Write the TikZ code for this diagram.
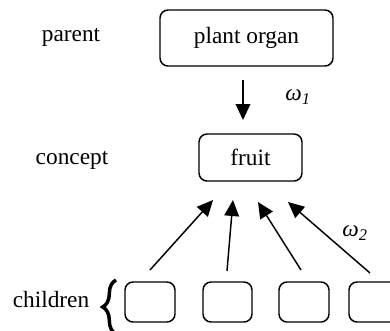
\documentclass[tikz,border=0pt]{standalone}
\usepackage{fontspec}
\setmainfont{Liberation Serif}
\usetikzlibrary{arrows.meta,decorations.pathreplacing}
\tikzset{
  lbl/.style={font=\fontsize{17.5}{20}\selectfont, inner sep=0pt},
  box/.style={draw, line width=1.1pt, rounded corners=6pt, font=\fontsize{17.5}{20}\selectfont, inner sep=0pt},
  arr/.style={line width=1.1pt, -{Triangle[length=12pt,width=11pt]}},
  wlbl/.style={font=\fontsize{17.5}{20}\selectfont\itshape, inner sep=0pt}
}
\begin{document}
\begin{tikzpicture}[x=0.75pt,y=-0.75pt]
\useasboundingbox (0,0) rectangle (390,330);
% labels
\node[lbl] (lp) at (71,37) {parent};
\node[lbl] (lc) at (72,160) {concept};
\node[lbl] (lch) at (51,300) {children};
% boxes
\node[box, minimum width=173*0.75pt, minimum height=56*0.75pt] (po) at (246.5,38) {plant organ};
\node[box, minimum width=103*0.75pt, minimum height=47*0.75pt] (fr) at (250.5,157.5) {fruit};
\node[box, minimum width=50*0.75pt, minimum height=40*0.75pt] (c1) at (150,302) {};
\node[box, minimum width=49*0.75pt, minimum height=40*0.75pt] (c2) at (227.5,302) {};
\node[box, minimum width=50*0.75pt, minimum height=40*0.75pt] (c3) at (304,302) {};
\node[box, minimum width=50*0.75pt, minimum height=40*0.75pt] (c4) at (374,302) {};
% brace
\coordinate (b1) at (116,334);
\coordinate (b2) at (116,280);
\draw[line width=2.6pt, decorate, decoration={brace, amplitude=10pt}] (b1) -- (b2);
% arrow parent->concept
\coordinate (d1) at (243,80);
\coordinate (d2) at (243,120);
\draw[arr] (d1) -- (d2);
\node[wlbl] (w1) at (298,97) {ω\textsubscript{1}};
% children arrows
\coordinate (s1) at (150,270); \coordinate (e1) at (213,200);
\coordinate (s2) at (227,271); \coordinate (e2) at (233,200);
\coordinate (s3) at (301,270); \coordinate (e3) at (258,202);
\coordinate (s4) at (370,273); \coordinate (e4) at (288,202);
\draw[arr] (s1) -- (e1);
\draw[arr] (s2) -- (e2);
\draw[arr] (s3) -- (e3);
\draw[arr] (s4) -- (e4);
\node[wlbl] (w2) at (355,233) {ω\textsubscript{2}};
\end{tikzpicture}
\end{document}
